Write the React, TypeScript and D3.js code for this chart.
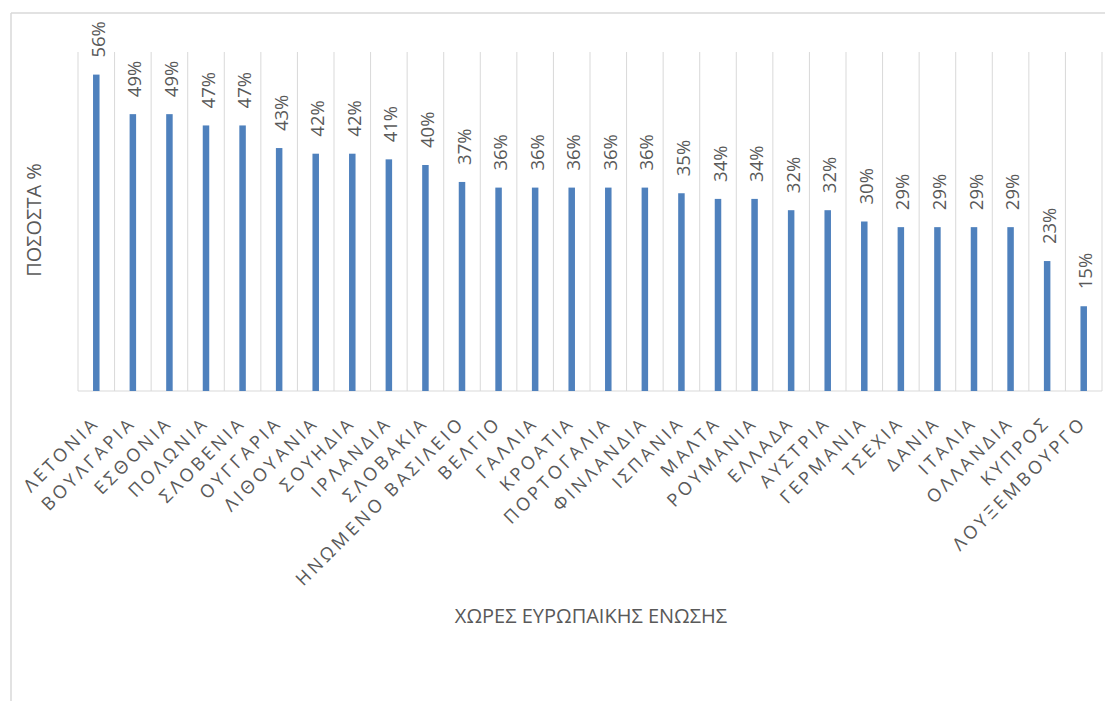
import React from "react";
import * as d3 from "d3";

const categories = ["ΛΕΤΟΝΙΑ","ΒΟΥΛΓΑΡΙΑ","ΕΣΘΟΝΙΑ","ΠΟΛΩΝΙΑ","ΣΛΟΒΕΝΙΑ","ΟΥΓΓΑΡΙΑ","ΛΙΘΟΥΑΝΙΑ","ΣΟΥΗΔΙΑ","ΙΡΛΑΝΔΙΑ","ΣΛΟΒΑΚΙΑ","ΗΝΩΜΕΝΟ ΒΑΣΙΛΕΙΟ","ΒΕΛΓΙΟ","ΓΑΛΛΙΑ","ΚΡΟΑΤΙΑ","ΠΟΡΤΟΓΑΛΙΑ","ΦΙΝΛΑΝΔΙΑ","ΙΣΠΑΝΙΑ","ΜΑΛΤΑ","ΡΟΥΜΑΝΙΑ","ΕΛΛΑΔΑ","ΑΥΣΤΡΙΑ","ΓΕΡΜΑΝΙΑ","ΤΣΕΧΙΑ","ΔΑΝΙΑ","ΙΤΑΛΙΑ","ΟΛΛΑΝΔΙΑ","ΚΥΠΡΟΣ","ΛΟΥΞΕΜΒΟΥΡΓΟ"];
const values = [56,49,49,47,47,43,42,42,41,40,37,36,36,36,36,36,35,34,34,32,32,30,29,29,29,29,23,15];
const yDomain = [0, 60];
const xTitle = "ΧΩΡΕΣ ΕΥΡΩΠΑΙΚΗΣ ΕΝΩΣΗΣ";
const yTitle = "ΠΟΣΟΣΤΑ %";

const W = 1105, H = 701;
const plot = { left: 78, right: 1102, top: 52, bottom: 391 };
const FONT = "'Open Sans', 'Noto Sans', sans-serif";
const TEXT = "#595959";
const GRID = "#d9d9d9";
const BAR = "#4f81bd";

export default function App() {
  const x = d3.scaleBand<string>().domain(categories).range([plot.left, plot.right]).paddingInner(0).paddingOuter(0);
  const y = d3.scaleLinear().domain(yDomain).range([plot.bottom, plot.top]);
  const bw = 6.5;
  const gridXs = categories.map((c) => x(c)!).concat([plot.right]);
  return (
    <div style={{ position: "absolute", left: 0, top: 0, width: W, height: H, overflow: "hidden" }}>
      <svg width={W} height={H} style={{ display: "block", background: "#fff" }}>
        {/* chart frame */}
        <line x1={11} y1={13} x2={W} y2={13} stroke={GRID} strokeWidth={1.5} />
        <line x1={11} y1={13} x2={11} y2={H} stroke={GRID} strokeWidth={1.5} />
        {/* vertical category gridlines */}
        {gridXs.map((gx, i) => (
          <line key={"g" + i} x1={gx} x2={gx} y1={plot.top} y2={plot.bottom} stroke={GRID} strokeWidth={1} />
        ))}
        {/* axis line */}
        <line x1={plot.left} x2={plot.right} y1={plot.bottom} y2={plot.bottom} stroke={GRID} strokeWidth={1} />
        {/* bars */}
        {categories.map((c, i) => {
          const cx = x(c)! + x.bandwidth() / 2;
          return (
            <rect key={"b" + i} x={cx - bw / 2} y={y(values[i])} width={bw} height={plot.bottom - y(values[i])} fill={BAR} />
          );
        })}
        {/* value labels */}
        {categories.map((c, i) => {
          const cx = x(c)! + x.bandwidth() / 2;
          const ty = y(values[i]) - 17;
          const tx = cx + 8.5;
          return (
            <text key={"v" + i} transform={`translate(${tx},${ty}) rotate(-90)`} fontFamily={FONT} fontSize={18.5} fill={TEXT} textAnchor="start">
              {values[i] + "%"}
            </text>
          );
        })}
        {/* category labels */}
        {categories.map((c, i) => {
          const cx = x(c)! + x.bandwidth() / 2;
          return (
            <text key={"c" + i} transform={`translate(${cx + 4},${424}) rotate(-45)`} fontFamily={FONT} fontSize={18} fill={TEXT} textAnchor="end" letterSpacing={3.3}>
              {c}
            </text>
          );
        })}
        {/* axis titles */}
        <text x={591} y={623} textAnchor="middle" fontFamily={FONT} fontSize={20} fill={TEXT}>{xTitle}</text>
        <text transform={`translate(41,220) rotate(-90)`} textAnchor="middle" fontFamily={FONT} fontSize={20} fill={TEXT}>{yTitle}</text>
      </svg>
    </div>
  );
}
